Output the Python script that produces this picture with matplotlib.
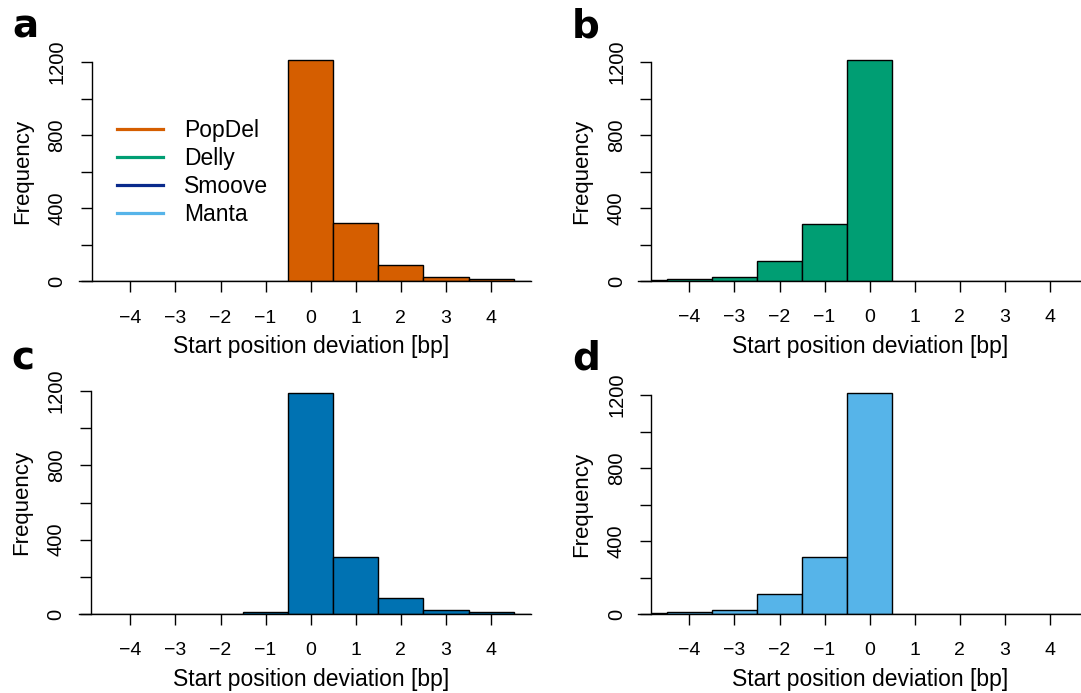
import matplotlib

matplotlib.use("Agg")

import matplotlib.pyplot as plt
from matplotlib.lines import Line2D
from matplotlib.ticker import FixedLocator, FuncFormatter


# deviation bins (bp) and counts per caller
bins = [-5, -4, -3, -2, -1, 0, 1, 2, 3, 4, 5]
popdel = [0, 0, 3, 0, 2, 1213, 321, 91, 25, 11, 0]
delly = [4, 11, 20, 112, 313, 1212, 0, 0, 0, 0, 0]
smoove = [0, 0, 0, 0, 12, 1188, 305, 88, 22, 9, 0]
manta = [3, 9, 22, 110, 312, 1212, 0, 0, 0, 0, 0]

callers = ["PopDel", "Delly", "Smoove", "Manta"]
bar_colors = ["#D55E00", "#009E73", "#0072B2", "#56B4E9"]
legend_colors = ["#D55E00", "#009E73", "#0A2A8C", "#56B4E9"]
x_ticks = [-4, -3, -2, -1, 0, 1, 2, 3, 4]
y_ticks = [0, 200, 400, 600, 800, 1000, 1200]
y_labelled = [0, 400, 800, 1200]

W, H = 1081, 693
FONT = "Liberation Sans"

# per panel: letter, counts, colour, y-axis px, x=0 px, px per bp, y=0 px, px per count
panels = [
    ("a", popdel, bar_colors[0], 91.5, 310.7, 45.09, 281.3, 0.18275),
    ("b", delly, bar_colors[1], 651.0, 869.7, 45.10, 281.0, 0.18250),
    ("c", smoove, bar_colors[2], 90.7, 310.7, 45.09, 614.0, 0.18583),
    ("d", manta, bar_colors[3], 651.0, 869.7, 45.10, 614.0, 0.18250),
]

X_RIGHT = 4.88
AXIS_LEFT = -5.13
Y_TOP = 1250

fig = plt.figure(figsize=(W / 100, H / 100), dpi=100)

for letter, counts, color, left_px, zero_px, unit, base_px, scale in panels:
    x_left = (left_px - zero_px) / unit
    width_px = (X_RIGHT - x_left) * unit
    height_px = Y_TOP * scale
    ax = fig.add_axes([
        left_px / W,
        (H - base_px) / H,
        width_px / W,
        height_px / H,
    ])

    ax.bar(
        bins,
        counts,
        width=1.0,
        color=color,
        edgecolor="black",
        linewidth=1.0,
    )

    ax.set_xlim(x_left, X_RIGHT)
    ax.set_ylim(0, Y_TOP)

    for side in ["top", "right", "bottom"]:
        ax.spines[side].set_visible(False)
    ax.spines["left"].set_bounds(0, 1200)
    ax.spines["left"].set_linewidth(1.0)

    # baseline runs a little past the y axis on the left
    ax.plot(
        [AXIS_LEFT, X_RIGHT],
        [0, 0],
        color="black",
        linewidth=1.0,
        clip_on=False,
    )

    ax.xaxis.set_major_locator(FixedLocator(x_ticks))
    ax.yaxis.set_major_locator(FixedLocator(y_ticks))
    ax.yaxis.set_major_formatter(
        FuncFormatter(lambda v, p: f"{int(v)}" if int(v) in y_labelled else "")
    )
    ax.tick_params(
        axis="x",
        direction="out",
        length=8,
        width=1.0,
        pad=12.5,
        labelsize=14,
    )
    ax.tick_params(
        axis="y",
        direction="out",
        length=8,
        width=1.0,
        pad=10,
        labelsize=14.5,
        labelrotation=90,
    )
    for lab in ax.get_xticklabels() + ax.get_yticklabels():
        lab.set_fontfamily(FONT)
    for lab in ax.get_yticklabels():
        lab.set_verticalalignment("center")

    fig.text(
        zero_px / W,
        1 - (base_px + 72) / H,
        "Start position deviation [bp]",
        ha="center",
        va="baseline",
        fontsize=16.5,
        family=FONT,
    )
    fig.text(
        (left_px - 69) / W,
        1 - (base_px - 600 * scale) / H,
        "Frequency",
        ha="center",
        va="center",
        rotation=90,
        fontsize=16,
        family=FONT,
    )
    fig.text(
        (left_px - 79) / W,
        1 - (base_px - 244) / H,
        letter,
        ha="left",
        va="baseline",
        fontsize=28,
        fontweight="bold",
        family="DejaVu Sans",
    )

    if letter == "a":
        handles = [
            Line2D([], [], color=c, linewidth=2.3) for c in legend_colors
        ]
        leg = ax.legend(
            handles,
            callers,
            loc="upper left",
            bbox_to_anchor=(116.7 / W, 1 - 119.5 / H),
            bbox_transform=fig.transFigure,
            frameon=False,
            borderpad=0,
            borderaxespad=0,
            handlelength=2.0,
            handletextpad=0.93,
            labelspacing=0.21,
            prop={"family": FONT, "size": 16.5},
        )

fig.savefig("out.png", dpi=100)
